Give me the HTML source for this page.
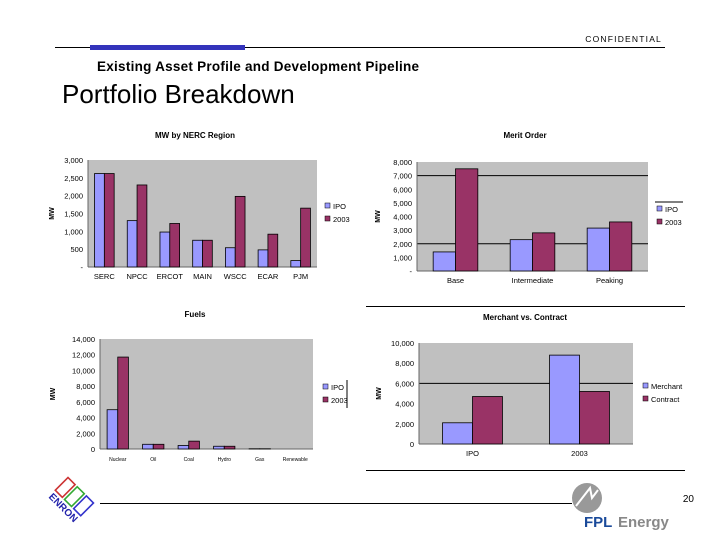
<!DOCTYPE html>
<html><head><meta charset="utf-8"><style>
body{margin:0;width:720px;height:540px;background:#fff;overflow:hidden;font-family:"Liberation Sans",sans-serif;}
svg{position:absolute;left:0;top:0}
</style></head><body>
<svg width="720" height="540" id="s">
<g>
<text x="662" y="42" font-size="8.5" text-anchor="end" letter-spacing="1.2">CONFIDENTIAL</text>
<line x1="55" y1="47.5" x2="665" y2="47.5" stroke="#000" stroke-width="1"/>
<rect x="90" y="45" width="155" height="5" fill="#3333bb"/>
<text x="97" y="71" font-size="13.5" font-weight="bold" textLength="322">Existing Asset Profile and Development Pipeline</text>
<text x="62" y="103" font-size="26">Portfolio Breakdown</text>
</g>
<line x1="366" y1="306.5" x2="685" y2="306.5" stroke="#000"/>
<line x1="366" y1="470.5" x2="685" y2="470.5" stroke="#000"/>
<line x1="100" y1="503.5" x2="572" y2="503.5" stroke="#000"/>
<text x="694" y="502" font-size="10" text-anchor="end">20</text>
<g transform="translate(68,503) rotate(45)">
<rect x="-18" y="-18" width="10" height="18" fill="none" stroke="#c33" stroke-width="1.6"/>
<rect x="-5" y="-18" width="10" height="18" fill="none" stroke="#3a3" stroke-width="1.6"/>
<rect x="8" y="-18" width="10" height="18" fill="none" stroke="#33c" stroke-width="1.6"/>
<text x="0" y="10" font-size="10" font-weight="bold" fill="#22a" text-anchor="middle">ENRON</text>
</g>
<g>
<circle cx="587" cy="498" r="15" fill="#999"/>
<path d="M576 506 L590 488 L592 498 L598 490" stroke="#fff" stroke-width="2" fill="none"/>
<text x="584" y="527" font-size="15" font-weight="bold" fill="#1a4a9a">FPL</text>
<text x="618" y="527" font-size="15" font-weight="bold" fill="#888">Energy</text>
</g>
<g id="charts"></g>
</svg>
<script>
// Chart 1: MW by NERC Region
const nercCategories=["SERC","NPCC","ERCOT","MAIN","WSCC","ECAR","PJM"];
const nercIPO=[2620,1300,980,750,540,480,180];
const nerc2003=[2620,2300,1220,750,1980,920,1650];
const nercTicks=["-","500","1,000","1,500","2,000","2,500","3,000"];
// Chart 2: Merit Order
const meritCategories=["Base","Intermediate","Peaking"];
const meritIPO=[1400,2300,3150];
const merit2003=[7500,2800,3600];
const meritTicks=["-","1,000","2,000","3,000","4,000","5,000","6,000","7,000","8,000"];
// Chart 3: Fuels
const fuelCategories=["Nuclear","Oil","Coal","Hydro","Gas","Renewable"];
const fuelIPO=[5000,600,450,350,30,0];
const fuel2003=[11700,600,1000,350,30,0];
const fuelTicks=["0","2,000","4,000","6,000","8,000","10,000","12,000","14,000"];
// Chart 4: Merchant vs. Contract
const mvcCategories=["IPO","2003"];
const mvcMerchant=[2100,8800];
const mvcContract=[4700,5200];
const mvcTicks=["0","2,000","4,000","6,000","8,000","10,000"];

const NS="http://www.w3.org/2000/svg";
const root=document.getElementById('charts');
function mk(tag,attrs,parent){const e=document.createElementNS(NS,tag);for(const k in attrs)e.setAttribute(k,attrs[k]);(parent||root).appendChild(e);return e;}

function chart(o){
  const g=mk('g',{});
  
  
  const {x0,x1,y0,y1,max,step}=o;
  const ys=v=>y1-(v/max)*(y1-y0);
  const bg=mk('rect',{x:x0,y:y0,width:x1-x0,height:y1-y0,fill:'#c0c0c0'},g);
  
  
  (o.grid||[]).forEach(v=>{const l=mk('line',{x1:x0,x2:x1,y1:ys(v),y2:ys(v),stroke:'#000','stroke-width':1},g);
    
    });
  mk('line',{x1:x0,x2:x0,y1:y0,y2:y1,stroke:'#666'},g);
  mk('line',{x1:x0,x2:x1,y1:y1,y2:y1,stroke:'#666'},g);
  o.ticks.forEach((t,i)=>{const tx=mk('text',{x:x0-5,y:ys(i*step)+3,'font-size':7.5,'text-anchor':'end'},g);tx.textContent=t;
    
    });
  const n=o.cats.length, cw=(x1-x0)/n, bw=cw*o.bf;
  o.cats.forEach((c,i)=>{
    const cx=x0+cw*(i+0.5);
    [[o.a,'#9999ff','bar-'+o.sa],[o.b,'#993366','bar-'+o.sb]].forEach((s,j)=>{
      const v=s[0][i];const bx=cx-bw+j*bw;
      const r=mk('rect',{x:bx,y:ys(v),width:bw,height:y1-ys(v),fill:s[1],stroke:'#000','stroke-width':0.8},g);
      
      
    });
    const t=mk('text',{x:cx,y:y1+12,'font-size':o.cfs||7.5,'text-anchor':'middle'},g);t.textContent=c;
    
    
  });
  const ti=mk('text',{x:o.tx,y:o.ty,'font-size':8,'font-weight':'bold','text-anchor':'middle'},g);ti.textContent=o.title;
  
  
  const yl=mk('text',{x:o.yx,y:(y0+y1)/2,'font-size':7,'font-weight':'bold','text-anchor':'middle',transform:`rotate(-90 ${o.yx} ${(y0+y1)/2})`},g);yl.textContent='MW';
  
  
  [[o.sa,'#9999ff'],[o.sb,'#993366']].forEach((s,j)=>{
    const ly=o.ly+j*13;
    const sw=mk('rect',{x:o.lx,y:ly-6,width:5,height:5,fill:s[1],stroke:'#000','stroke-width':0.5},g);
    
    
    const lt=mk('text',{x:o.lx+8,y:ly,'font-size':7.5},g);lt.textContent=s[0];
    
    
  });
}
chart({name:'nerc-chart',x0:88,x1:317,y0:160,y1:267,max:3000,step:500,ticks:nercTicks,cats:nercCategories,a:nercIPO,b:nerc2003,sa:'IPO',sb:'2003',bf:0.3,title:'MW by NERC Region',tx:195,ty:138,yx:54,lx:325,ly:209});
chart({name:'merit-order-chart',x0:417,x1:648,y0:162,y1:271,max:8000,step:1000,grid:[7000,2000],ticks:meritTicks,cats:meritCategories,a:meritIPO,b:merit2003,sa:'IPO',sb:'2003',bf:0.29,title:'Merit Order',tx:525,ty:138,yx:380,lx:657,ly:212});
chart({name:'fuels-chart',x0:100,x1:313,y0:339,y1:449,max:14000,step:2000,ticks:fuelTicks,cats:fuelCategories,a:fuelIPO,b:fuel2003,sa:'IPO',sb:'2003',bf:0.3,cfs:5,title:'Fuels',tx:195,ty:317,yx:55,lx:323,ly:390});
chart({name:'merchant-vs-contract-chart',x0:419,x1:633,y0:343,y1:444,max:10000,step:2000,grid:[6000],ticks:mvcTicks,cats:mvcCategories,a:mvcMerchant,b:mvcContract,sa:'Merchant',sb:'Contract',bf:0.28,title:'Merchant vs. Contract',tx:525,ty:320,yx:381,lx:643,ly:389});
mk('line',{x1:655,x2:683,y1:202,y2:202,stroke:'#000'});
mk('line',{x1:347,x2:347,y1:380,y2:408,stroke:'#000'});
</script>
</body></html>
